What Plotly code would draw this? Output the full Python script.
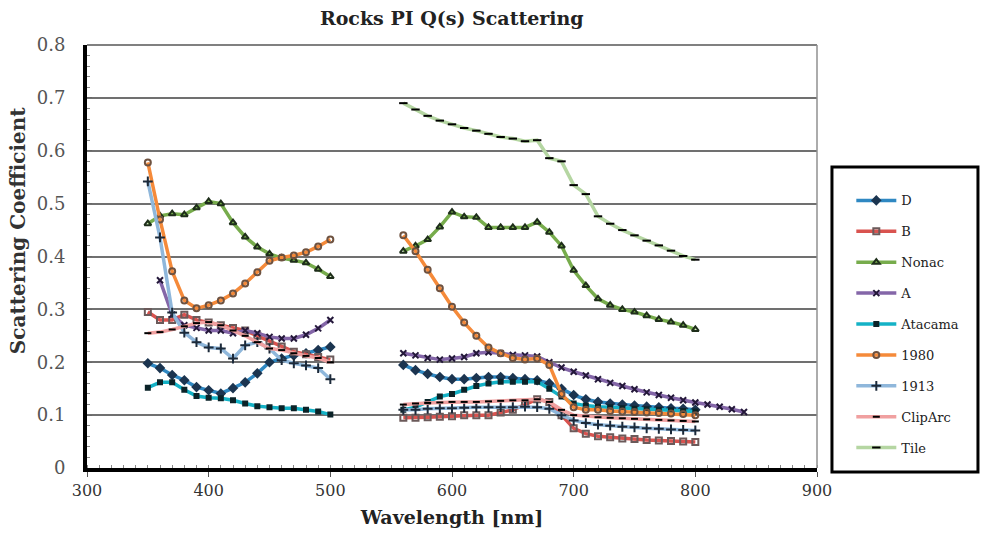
import plotly.graph_objects as go

# Wavelength grids [nm]
wl_left = [350, 360, 370, 380, 390, 400, 410, 420, 430, 440, 450, 460, 470, 480, 490, 500]
wl_right = [560, 570, 580, 590, 600, 610, 620, 630, 640, 650, 660, 670, 680, 690, 700,
            710, 720, 730, 740, 750, 760, 770, 780, 790, 800]
wl_right_ext = wl_right + [810, 820, 830, 840]
wl_a_left = wl_left[1:]

# Scattering coefficients per sample
d_left = [0.198, 0.189, 0.176, 0.166, 0.153, 0.147, 0.141, 0.151, 0.162, 0.179, 0.200, 0.207, 0.213, 0.217, 0.223, 0.229]
d_right = [0.195, 0.185, 0.178, 0.172, 0.168, 0.168, 0.170, 0.172, 0.172, 0.170, 0.168, 0.166, 0.160, 0.150, 0.138,
           0.130, 0.125, 0.122, 0.120, 0.118, 0.116, 0.115, 0.113, 0.112, 0.110]

b_left = [0.295, 0.280, 0.280, 0.290, 0.280, 0.275, 0.270, 0.265, 0.260, 0.250, 0.240, 0.230, 0.220, 0.215, 0.210, 0.205]
b_right = [0.095, 0.095, 0.096, 0.097, 0.098, 0.100, 0.100, 0.100, 0.105, 0.110, 0.120, 0.130, 0.125, 0.100, 0.075,
           0.065, 0.060, 0.058, 0.056, 0.055, 0.053, 0.052, 0.051, 0.050, 0.049]

nonac_left = [0.462, 0.477, 0.481, 0.479, 0.492, 0.504, 0.500, 0.464, 0.437, 0.418, 0.405, 0.397, 0.393, 0.388, 0.376, 0.362]
nonac_right = [0.410, 0.420, 0.432, 0.456, 0.484, 0.475, 0.474, 0.455, 0.455, 0.455, 0.455, 0.465, 0.446, 0.420, 0.374,
               0.345, 0.320, 0.308, 0.300, 0.295, 0.288, 0.281, 0.276, 0.270, 0.262]

a_left = [0.355, 0.290, 0.270, 0.265, 0.260, 0.260, 0.255, 0.260, 0.255, 0.248, 0.245, 0.245, 0.252, 0.264, 0.280]
a_right = [0.217, 0.213, 0.208, 0.205, 0.207, 0.210, 0.217, 0.219, 0.217, 0.214, 0.213, 0.211, 0.200, 0.190, 0.182,
           0.175, 0.168, 0.161, 0.155, 0.149, 0.143, 0.138, 0.133, 0.128, 0.124, 0.120, 0.116, 0.111, 0.106]

atacama_left = [0.152, 0.162, 0.162, 0.148, 0.136, 0.133, 0.132, 0.128, 0.122, 0.117, 0.115, 0.113, 0.113, 0.110, 0.107, 0.101]
atacama_right = [0.110, 0.115, 0.125, 0.135, 0.140, 0.148, 0.155, 0.160, 0.163, 0.163, 0.163, 0.163, 0.150, 0.135, 0.122,
                 0.118, 0.116, 0.115, 0.113, 0.112, 0.111, 0.110, 0.109, 0.108, 0.107]

s1980_left = [0.578, 0.470, 0.372, 0.317, 0.302, 0.308, 0.317, 0.330, 0.349, 0.370, 0.392, 0.398, 0.402, 0.408, 0.419, 0.432]
s1980_right = [0.440, 0.410, 0.375, 0.340, 0.305, 0.275, 0.250, 0.228, 0.217, 0.208, 0.205, 0.207, 0.195, 0.140, 0.115,
               0.110, 0.110, 0.108, 0.107, 0.106, 0.105, 0.104, 0.103, 0.102, 0.100]

s1913_left = [0.542, 0.436, 0.294, 0.256, 0.238, 0.228, 0.226, 0.207, 0.232, 0.238, 0.226, 0.204, 0.198, 0.194, 0.189, 0.168]
s1913_right = [0.110, 0.110, 0.112, 0.113, 0.113, 0.114, 0.115, 0.115, 0.115, 0.115, 0.116, 0.115, 0.112, 0.100, 0.090,
               0.085, 0.082, 0.080, 0.078, 0.077, 0.075, 0.074, 0.073, 0.072, 0.071]

cliparc_left = [0.255, 0.257, 0.262, 0.268, 0.274, 0.276, 0.270, 0.260, 0.250, 0.238, 0.226, 0.223, 0.217, 0.212, 0.208, 0.200]
cliparc_right = [0.120, 0.122, 0.123, 0.124, 0.125, 0.125, 0.125, 0.126, 0.127, 0.128, 0.128, 0.130, 0.125, 0.110, 0.100,
                 0.098, 0.096, 0.095, 0.094, 0.093, 0.092, 0.091, 0.090, 0.089, 0.088]

tile_right = [0.690, 0.678, 0.666, 0.657, 0.650, 0.643, 0.638, 0.632, 0.626, 0.623, 0.618, 0.620, 0.586, 0.580, 0.535,
              0.518, 0.476, 0.462, 0.450, 0.440, 0.430, 0.421, 0.411, 0.401, 0.394]

x_ticks = [300, 400, 500, 600, 700, 800, 900]
y_ticks = [0, 0.1, 0.2, 0.3, 0.4, 0.5, 0.6, 0.7, 0.8]
y_tick_text = ["0", "0.1", "0.2", "0.3", "0.4", "0.5", "0.6", "0.7", "0.8"]

SERIF = "DejaVu Serif"


def joined(xl, yl, xr, yr):
    """Two measurement bands drawn as one trace with a break between them."""
    return list(xl) + [None] + list(xr), list(yl) + [None] + list(yr)


series = [
    ("D", wl_left, d_left, wl_right, d_right, "#2f88c2", "diamond", "#1c3550", 6),
    ("B", wl_left, b_left, wl_right, b_right, "#d9534f", "square-open", "#6b5a5a", 6),
    ("Nonac", wl_left, nonac_left, wl_right, nonac_right, "#77ac4c", "triangle-up-open", "#1e2e1a", 6),
    ("A", wl_a_left, a_left, wl_right_ext, a_right, "#8466a8", "x-thin-open", "#24183a", 6),
    ("Atacama", wl_left, atacama_left, wl_right, atacama_right, "#14b2c6", "square", "#0b2328", 4),
    ("1980", wl_left, s1980_left, wl_right, s1980_right, "#f58a3a", "circle-open", "#6e5240", 6),
    ("1913", wl_left, s1913_left, wl_right, s1913_right, "#8fb7db", "cross-thin-open", "#1c2a3a", 7),
    ("ClipArc", wl_left, cliparc_left, wl_right, cliparc_right, "#f0a0a0", "line-ew-open", "#000000", 5),
    ("Tile", [], [], wl_right, tile_right, "#b5d6a2", "line-ew-open", "#000000", 6),
]

fig = go.Figure()
for name, xl, yl, xr, yr, color, symbol, mcolor, msize in series:
    if xl:
        xs, ys = joined(xl, yl, xr, yr)
    else:
        xs, ys = list(xr), list(yr)
    fig.add_trace(go.Scatter(
        x=xs, y=ys, name=name, mode="lines+markers",
        legendgroup=name,
        connectgaps=False,
        line=dict(color=color, width=3.5),
        marker=dict(symbol=symbol, size=msize, color=mcolor,
                    line=dict(color=mcolor, width=2)),
    ))

fig.update_layout(
    width=981, height=537,
    margin=dict(l=87, r=164, t=45, b=69),
    paper_bgcolor="white", plot_bgcolor="white",
    font=dict(family=SERIF, size=14, color="#333333"),
    title=dict(text="<b>Rocks PI Q(s) Scattering</b>", x=0.4605, xanchor="center",
               y=0.965, yanchor="middle", font=dict(family=SERIF, size=19, color="#222222")),
    showlegend=True,
    legend=dict(
        x=1.047, y=0.668, xanchor="left", yanchor="top",
        bgcolor="rgba(0,0,0,0)", borderwidth=0,
        font=dict(family=SERIF, size=13, color="#222222"),
        tracegroupgap=11, itemwidth=40,
    ),
)

fig.update_xaxes(
    range=[300, 900], tickvals=x_ticks,
    showgrid=False, zeroline=False,
    showline=True, linecolor="black", linewidth=4,
    ticks="outside", ticklen=5, tickcolor="#555555", tickwidth=1,
    tickfont=dict(family=SERIF, size=16, color="#333333"),
    minor=dict(dtick=10, ticks="inside", ticklen=3, tickcolor="#888888", showgrid=False),
    title=dict(text="<b>Wavelength [nm]</b>", font=dict(family=SERIF, size=19, color="#222222"), standoff=12),
)
fig.update_yaxes(
    range=[0, 0.8], tickvals=y_ticks, ticktext=y_tick_text,
    showgrid=True, gridcolor="#707070", gridwidth=1.5,
    zeroline=False,
    showline=True, linecolor="black", linewidth=4,
    ticks="inside", ticklen=5, tickcolor="#666666", tickwidth=1,
    ticklabelstandoff=14,
    tickfont=dict(family=SERIF, size=18, color="#555555"),
    minor=dict(dtick=0.02, ticks="inside", ticklen=3, tickcolor="#888888", showgrid=False),
)

# Y-axis title, placed slightly above the plot-area centre
fig.add_annotation(
    text="<b>Scattering Coefficient</b>", textangle=-90,
    xref="paper", yref="paper", x=-0.0945, y=0.56,
    xanchor="center", yanchor="middle", showarrow=False,
    font=dict(family=SERIF, size=20, color="#333333"),
)

# Plot-area frame on the top and right sides
fig.add_shape(type="line", xref="paper", yref="paper", x0=0, x1=1, y0=1, y1=1,
              line=dict(color="#808080", width=2))
fig.add_shape(type="line", xref="paper", yref="paper", x0=1, x1=1, y0=0, y1=1,
              line=dict(color="#909090", width=1.5))

# Legend frame
fig.add_shape(type="rect", xref="paper", yref="paper",
              x0=1.0205, x1=1.2205, y0=-0.0095, y1=0.7116,
              line=dict(color="black", width=3), fillcolor="rgba(0,0,0,0)")

fig.write_html("out.html")
